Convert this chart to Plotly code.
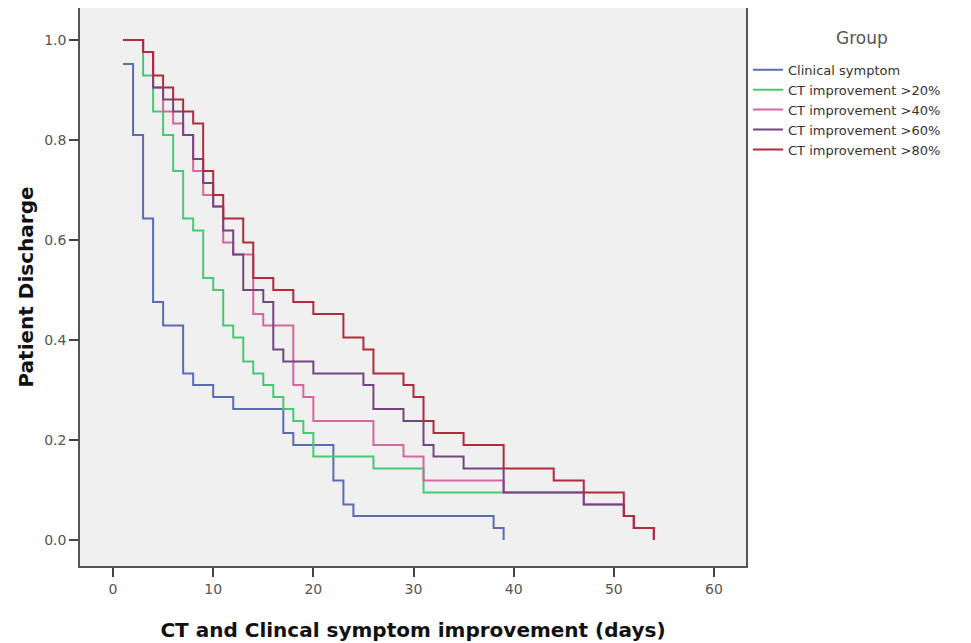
import plotly.graph_objects as go

groups = ["Clinical symptom", "CT improvement >20%", "CT improvement >40%",
          "CT improvement >60%", "CT improvement >80%"]
legend_title = "Group"

clin_t = [1, 2, 3, 4, 5, 7, 8, 10, 12, 17, 18, 22, 23, 24, 38, 39]
clin_s = [0.952, 0.810, 0.643, 0.476, 0.429, 0.333, 0.310, 0.286, 0.262, 0.214, 0.190, 0.119, 0.071, 0.048, 0.024, 0.0]

ct20_t = [1, 3, 4, 5, 6, 7, 8, 9, 10, 11, 12, 13, 14, 15, 16, 17, 18, 19, 20, 26, 31, 39]
ct20_s = [1.0, 0.929, 0.857, 0.810, 0.738, 0.643, 0.619, 0.524, 0.500, 0.429, 0.405, 0.357, 0.333, 0.310, 0.286, 0.262, 0.238, 0.214, 0.167, 0.143, 0.095, 0.095]

ct40_t = [1, 3, 4, 5, 6, 7, 8, 9, 10, 11, 12, 14, 15, 18, 19, 20, 26, 29, 31, 39, 47, 51, 52, 54]
ct40_s = [1.0, 0.976, 0.905, 0.857, 0.833, 0.810, 0.738, 0.690, 0.667, 0.595, 0.571, 0.452, 0.429, 0.310, 0.286, 0.238, 0.190, 0.167, 0.119, 0.095, 0.071, 0.048, 0.024, 0.0]

ct60_t = [1, 3, 4, 5, 6, 7, 8, 9, 10, 11, 12, 13, 15, 16, 17, 20, 25, 26, 29, 31, 32, 35, 39, 47, 51, 52, 54]
ct60_s = [1.0, 0.976, 0.905, 0.881, 0.857, 0.810, 0.762, 0.714, 0.667, 0.619, 0.571, 0.500, 0.476, 0.381, 0.357, 0.333, 0.310, 0.262, 0.238, 0.190, 0.167, 0.143, 0.095, 0.071, 0.048, 0.024, 0.0]

ct80_t = [1, 3, 4, 5, 6, 7, 8, 9, 10, 11, 13, 14, 16, 18, 20, 23, 25, 26, 29, 30, 31, 32, 35, 39, 44, 47, 51, 52, 54]
ct80_s = [1.0, 0.976, 0.929, 0.905, 0.881, 0.857, 0.833, 0.738, 0.690, 0.643, 0.595, 0.524, 0.500, 0.476, 0.452, 0.405, 0.381, 0.333, 0.310, 0.286, 0.238, 0.214, 0.190, 0.143, 0.119, 0.095, 0.048, 0.024, 0.0]

x_ticks = [0, 10, 20, 30, 40, 50, 60]
y_ticks = [0.0, 0.2, 0.4, 0.6, 0.8, 1.0]
y_tick_labels = ["0.0", "0.2", "0.4", "0.6", "0.8", "1.0"]

colors = ["#5a6cb2", "#48c774", "#d4679f", "#72477f", "#b02b3c"]
series = [(clin_t, clin_s), (ct20_t, ct20_s), (ct40_t, ct40_s), (ct60_t, ct60_s), (ct80_t, ct80_s)]

fig = go.Figure()
for name, (t, s), c in zip(groups, series, colors):
    fig.add_trace(go.Scatter(x=t, y=s, mode="lines", name=name,
                             line=dict(color=c, width=2, shape="hv"),
                             hoverinfo="skip"))

fig.add_annotation(text=legend_title, xref="paper", yref="paper",
                   x=1.174, y=0.946, xanchor="center", yanchor="middle",
                   showarrow=False, font=dict(size=17, color="#555"))

fig.update_layout(
    width=971, height=643,
    margin=dict(l=72, r=233, t=0, b=85, autoexpand=False),
    paper_bgcolor="white",
    plot_bgcolor="#f0f0f0",
    font=dict(family="DejaVu Sans, sans-serif", color="#444", size=14),
    showlegend=True,
    legend=dict(
        x=1.003, xref="paper", xanchor="left", y=0.916, yanchor="top",
        bgcolor="rgba(0,0,0,0)",
        font=dict(size=13, color="#333"),
        tracegroupgap=0, itemwidth=30,
    ),
    xaxis=dict(
        range=[-3.3, 63.2], tickvals=x_ticks, ticktext=[str(v) for v in x_ticks],
        showgrid=False, zeroline=False,
        showline=True, linecolor="#555", linewidth=1.5, mirror=True,
        ticks="outside", ticklen=9, tickcolor="#444", tickwidth=1.5,
        tickfont=dict(size=14, color="#555"),
        title=dict(text="<b>CT and Clincal symptom improvement (days)</b>",
                   font=dict(size=20, color="#111"), standoff=27),
    ),
    yaxis=dict(
        range=[-0.052, 1.064], tickvals=y_ticks, ticktext=y_tick_labels,
        showgrid=False, zeroline=False,
        showline=True, linecolor="#555", linewidth=1.5, mirror=True,
        ticks="outside", ticklen=9, tickcolor="#444", tickwidth=1.5,
        tickfont=dict(size=14, color="#555"),
        title=dict(text="<b>Patient Discharge</b>", font=dict(size=20, color="#111"), standoff=5),
    ),
)

fig.write_html("out.html")
